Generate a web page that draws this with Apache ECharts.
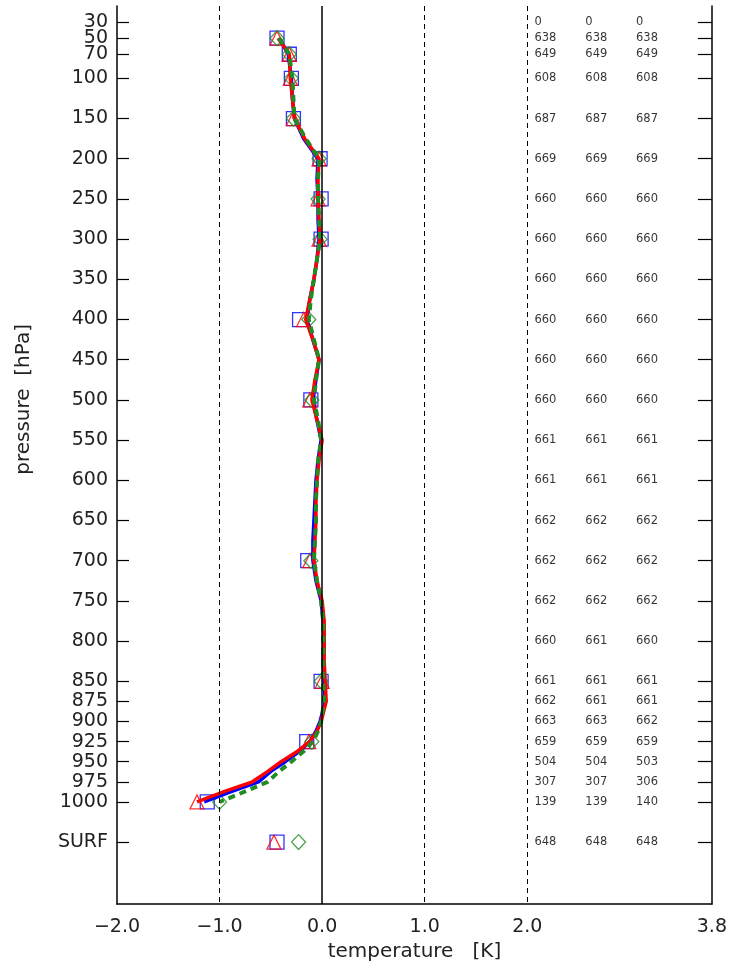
<!DOCTYPE html>
<html>
<head>
<meta charset="utf-8">
<script src="https://cdn.jsdelivr.net/npm/echarts@6/dist/echarts.min.js"></script>
<style>html,body{margin:0;padding:0;background:#fff}#c{width:730px;height:968px}</style>
</head>
<body>
<div id="c"></div>
<script>
// Pressure levels (hPa) for ticks; 1050 stands for the surface row
const levelTicks = [30,50,70,100,150,200,250,300,350,400,450,500,550,600,650,700,750,800,850,875,900,925,950,975,1000,1050];
const overlappedTicks = [50];
const mainLabelTicks = levelTicks.filter(v => overlappedTicks.indexOf(v) < 0);
const xTicks = [-2.0,-1.0,0.0,1.0,2.0,3.8];
const gridLinesDashed = [-1.0, 1.0, 2.0];
const gridLineSolid = [0.0];

// Profile lines (temperature K, pressure hPa)
const profileP = [50,70,100,125,150,175,200,225,250,275,300,325,350,375,400,425,450,475,500,525,550,575,600,625,650,675,700,725,750,775,800,825,850,875,900,912,925,937,950,962,975,987,1000];
const blueLine = [-0.42,-0.33,-0.30,-0.29,-0.27,-0.18,-0.04,-0.05,-0.04,-0.04,-0.03,-0.05,-0.08,-0.12,-0.15,-0.09,-0.03,-0.06,-0.09,-0.05,-0.01,-0.04,-0.06,-0.07,-0.08,-0.09,-0.09,-0.06,-0.01,0.01,0.02,0.01,0.02,0.03,-0.02,-0.06,-0.12,-0.22,-0.36,-0.50,-0.62,-0.88,-1.15];
const redLine  = [-0.43,-0.32,-0.31,-0.29,-0.27,-0.17,-0.03,-0.04,-0.04,-0.03,-0.02,-0.05,-0.08,-0.12,-0.16,-0.09,-0.03,-0.07,-0.10,-0.05,0.00,-0.03,-0.05,-0.06,-0.06,-0.07,-0.08,-0.05,0.00,0.02,0.02,0.02,0.03,0.04,-0.01,-0.05,-0.12,-0.24,-0.40,-0.53,-0.68,-0.95,-1.22];
const greenLine= [-0.42,-0.32,-0.29,-0.28,-0.27,-0.16,-0.03,-0.04,-0.04,-0.03,-0.02,-0.05,-0.08,-0.11,-0.13,-0.08,-0.03,-0.06,-0.08,-0.04,-0.01,-0.04,-0.05,-0.06,-0.06,-0.07,-0.08,-0.05,-0.01,0.01,0.01,0.01,0.01,0.02,-0.01,-0.04,-0.09,-0.18,-0.30,-0.42,-0.53,-0.75,-1.00];

// Markers at standard levels
const markerP = [50,70,100,150,200,250,300,400,500,700,850,925,1000,1050];
const blueMarks  = [-0.44,-0.32,-0.30,-0.28,-0.02,-0.01,-0.01,-0.22,-0.11,-0.14,-0.01,-0.15,-1.12,-0.44];
const redMarks   = [-0.44,-0.32,-0.31,-0.28,-0.03,-0.04,-0.03,-0.18,-0.12,-0.12,0.00,-0.13,-1.22,-0.47];
const greenMarks = [-0.44,-0.32,-0.30,-0.28,-0.03,-0.04,-0.02,-0.13,-0.10,-0.11,-0.01,-0.10,-1.00,-0.23];

// Observation counts per level (three columns)
const countP = [30,50,70,100,150,200,250,300,350,400,450,500,550,600,650,700,750,800,850,875,900,925,950,975,1000,1050];
const count1 = [0,638,649,608,687,669,660,660,660,660,660,660,661,661,662,662,662,660,661,662,663,659,504,307,139,648];
const count2 = [0,638,649,608,687,669,660,660,660,660,660,660,661,661,662,662,662,661,661,661,663,659,504,307,139,648];
const count3 = [0,638,649,608,687,669,660,660,660,660,660,660,661,661,662,662,662,660,661,661,662,659,503,306,140,648];
const countColX = [2.07, 2.566, 3.06];

const chart = echarts.init(document.getElementById('c'));
const FONT = 'DejaVu Sans';
const zip = (xs, ps) => xs.map((v,i)=>[v, ps[i]]);

function countSeries(vals, cx){
  return {
    type:'scatter', symbolSize:0, silent:true, z:5,
    data: vals.map((v,i)=>[cx, countP[i], v]),
    labelLayout:{hideOverlap:false},
    label:{show:true, position:'inside', align:'left', verticalAlign:'middle', offset:[0,-5],
      formatter: p => String(p.value[2]), fontFamily:FONT, fontSize:11.5, color:'#000'}
  };
}

const yCommon = {
  type:'value', inverse:true, min:10, max:1127,
  splitLine:{show:false},
};
const yLabelStyle = {hideOverlap:false, margin:9, fontFamily:FONT, fontSize:19, color:'#222',
  formatter: v => v===1050 ? 'SURF' : String(v)};

chart.setOption({
  animation:false,
  backgroundColor:'#fff',
  grid:{left:117, right:16, top:6, bottom:64},
  xAxis:{
    type:'value', min:-2, max:3.8,
    axisLine:{show:true, onZero:false, lineStyle:{color:'#000', width:1.5}},
    axisTick:{show:false},
    splitLine:{show:false},
    axisLabel:{customValues:xTicks, hideOverlap:false, margin:14, fontFamily:FONT, fontSize:19, color:'#222',
      formatter: v => (v<0?'\u2212':'') + Math.abs(v).toFixed(1)},
    name:'temperature   [K]', nameLocation:'middle', nameGap:38,
    nameTextStyle:{fontFamily:FONT, fontSize:20, color:'#222'}
  },
  yAxis:[
    Object.assign({}, yCommon, {
      position:'left',
      axisLine:{show:true, onZero:false, lineStyle:{color:'#000', width:1.5}},
      axisTick:{show:true, inside:true, length:12, customValues:levelTicks, lineStyle:{color:'#000', width:1.2}},
      axisLabel:Object.assign({customValues:mainLabelTicks}, yLabelStyle)
    }),
    Object.assign({}, yCommon, {
      position:'right',
      axisLine:{show:true, onZero:false, lineStyle:{color:'#000', width:1.5}},
      axisTick:{show:true, inside:true, length:14, customValues:levelTicks, lineStyle:{color:'#000', width:1.2}},
      axisLabel:{show:false}
    }),
    Object.assign({}, yCommon, {
      position:'left', offset:0,
      axisLine:{show:false}, axisTick:{show:false},
      axisLabel:Object.assign({customValues:overlappedTicks}, yLabelStyle)
    })
  ],
  graphic:[{
    type:'text', left:14, top:324, rotation:Math.PI/2,
    style:{text:'pressure  [hPa]', fontFamily:FONT, fontSize:20, fill:'#222'},
    originX:0, originY:0
  }],
  series:[
    {
      type:'line', data:[], silent:true,
      markLine:{silent:true, symbol:'none', label:{show:false},
        data:[
          ...gridLinesDashed.map(v=>({xAxis:v, lineStyle:{type:[5,4], color:'#000', width:1}})),
          ...gridLineSolid.map(v=>({xAxis:v, lineStyle:{type:'solid', color:'#000', width:1.5}}))
        ]}
    },
    {type:'scatter', data:zip(blueMarks, markerP), symbol:'rect', symbolSize:14,
      itemStyle:{color:'rgba(0,0,0,0)', borderColor:'#0000ff', borderWidth:1.3}},
    {type:'scatter', data:zip(redMarks, markerP), symbol:'triangle', symbolSize:14,
      itemStyle:{color:'rgba(0,0,0,0)', borderColor:'#ff0000', borderWidth:1.3}},
    {type:'scatter', data:zip(greenMarks, markerP), symbol:'diamond', symbolSize:[14,15],
      itemStyle:{color:'rgba(0,0,0,0)', borderColor:'#228B22', borderWidth:1.3}},
    {type:'line', data:zip(blueLine, profileP), showSymbol:false, lineStyle:{color:'#0000ff', width:3.5}},
    {type:'line', data:zip(redLine, profileP), showSymbol:false, lineStyle:{color:'#ff0000', width:3.5}},
    {type:'line', data:zip(greenLine, profileP), showSymbol:false, lineStyle:{color:'#228B22', width:4, type:[7,5]}},
    countSeries(count1, countColX[0]),
    countSeries(count2, countColX[1]),
    countSeries(count3, countColX[2])
  ]
});
</script>
</body>
</html>
